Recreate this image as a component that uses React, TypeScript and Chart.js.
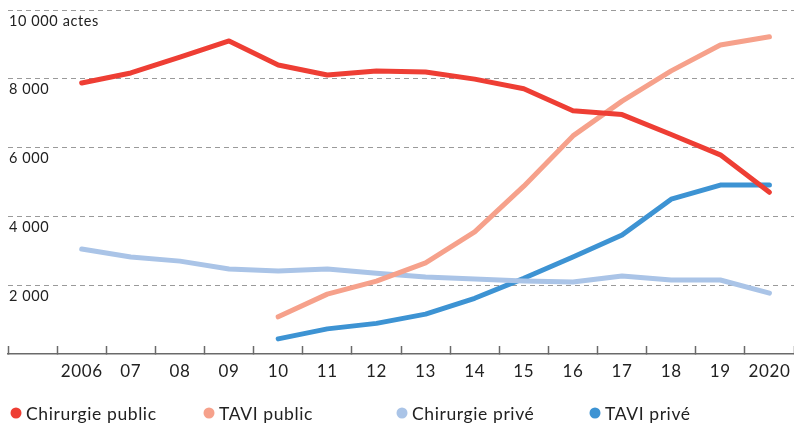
import React, { useEffect, useRef } from "react";
import { Chart, registerables } from "chart.js";

Chart.register(...registerables);

const categories = ["", "2006", "07", "08", "09", "10", "11", "12", "13", "14", "15", "16", "17", "18", "19", "2020"];

const chirurgiePublic = [null, 7880, 8170, 8630, 9100, 8400, 8110, 8230, 8200, 7990, 7710, 7070, 6960, 6380, 5790, 4700];
const taviPublic = [null, null, null, null, null, 1080, 1740, 2120, 2650, 3550, 4880, 6340, 7350, 8230, 8980, 9220];
const chirurgiePrive = [null, 3050, 2820, 2700, 2470, 2410, 2470, 2350, 2240, 2180, 2120, 2090, 2270, 2150, 2150, 1770];
const taviPrive = [null, null, null, null, null, 440, 730, 890, 1160, 1620, 2200, 2820, 3460, 4500, 4910, 4910];

const seriesLabels = ["Chirurgie public", "TAVI public", "Chirurgie privé", "TAVI privé"];
const seriesColors = ["#EE3E34", "#F6A18B", "#AAC4E7", "#3D93D3"];

const yTicks = [0, 2000, 4000, 6000, 8000, 10000];

const FONT = "Lato, 'Open Sans', sans-serif";

const formatTick = (v: number) => {
  if (v === 0) return "";
  const s = String(v).replace(/\B(?=(\d{3})+(?!\d))/g, " ");
  return v === 10000 ? s + " actes" : s;
};

const spacingPlugin = {
  id: "letterSpacing",
  beforeDraw(chart: any) {
    chart.ctx.letterSpacing = "0.6px";
  },
};

const legendPlugin = {
  id: "customLegend",
  afterDraw(chart: any) {
    const ctx = chart.ctx;
    const y = 413;
    const startX = 16;
    const col = 193;
    ctx.save();
    ctx.letterSpacing = "0.6px";
    ctx.font = `17.5px ${FONT}`;
    ctx.textBaseline = "middle";
    ctx.textAlign = "left";
    chart.data.datasets.forEach((ds: any, i: number) => {
      const cx = startX + i * col;
      ctx.beginPath();
      ctx.fillStyle = ds.borderColor;
      ctx.arc(cx, y, 5.5, 0, Math.PI * 2);
      ctx.fill();
      ctx.fillStyle = "#222";
      ctx.fillText(ds.label, cx + 10, y + 1);
    });
    ctx.restore();
  },
};

export default function App() {
  const ref = useRef<HTMLCanvasElement | null>(null);
  useEffect(() => {
    if (!ref.current) return;
    const allSeries = [chirurgiePublic, taviPublic, chirurgiePrive, taviPrive];
    const chart = new Chart(ref.current, {
      type: "line",
      data: {
        labels: categories,
        datasets: allSeries.map((d, i) => ({
          label: seriesLabels[i],
          data: d,
          borderColor: seriesColors[i],
          backgroundColor: seriesColors[i],
          borderWidth: 5,
          pointRadius: 0,
          tension: 0,
          borderJoinStyle: "round" as const,
          borderCapStyle: "round" as const,
          spanGaps: false,
        })),
      },
      options: {
        animation: false,
        responsive: true,
        maintainAspectRatio: false,
        layout: { padding: { left: 8, top: 10, right: 0, bottom: 40 } },
        plugins: {
          legend: { display: false },
          tooltip: { enabled: false },
        },
        scales: {
          x: {
            type: "category",
            offset: true,
            grid: {
              display: true,
              offset: true,
              drawOnChartArea: false,
              drawTicks: true,
              tickLength: -8,
              tickColor: "#6a6a6a",
              tickWidth: 1.5,
            },
            border: { display: true, color: "#6a6a6a", width: 1.5 },
            ticks: {
              color: "#222",
              font: { family: FONT, size: 17 },
              padding: 15,
              maxRotation: 0,
              autoSkip: false,
            },
            afterFit(scale: any) {
              scale.height = 30;
              scale.paddingLeft = 0;
              scale.paddingRight = 0;
            },
          },
          y: {
            min: 0,
            max: 10000,
            afterBuildTicks(scale: any) {
              scale.ticks = yTicks.map((v) => ({ value: v }));
            },
            grid: {
              color: (c: any) => (c.tick && c.tick.value === 0 ? "rgba(0,0,0,0)" : "#9a9a9a"),
              lineWidth: 1,
              drawTicks: false,
            },
            border: { display: false, dash: [5, 4] },
            ticks: {
              mirror: true,
              padding: 1,
              labelOffset: 11,
              color: "#222",
              font: { family: FONT, size: 14.5 },
              callback: (v: any) => formatTick(Number(v)),
            },
            afterFit(scale: any) {
              scale.width = 0;
            },
          },
        },
      },
      plugins: [spacingPlugin, legendPlugin],
    });
    return () => chart.destroy();
  }, []);

  return (
    <div style={{ position: "fixed", left: 0, top: 0, width: 794, height: 424, background: "#fff" }}>
      <canvas ref={ref} />
    </div>
  );
}
